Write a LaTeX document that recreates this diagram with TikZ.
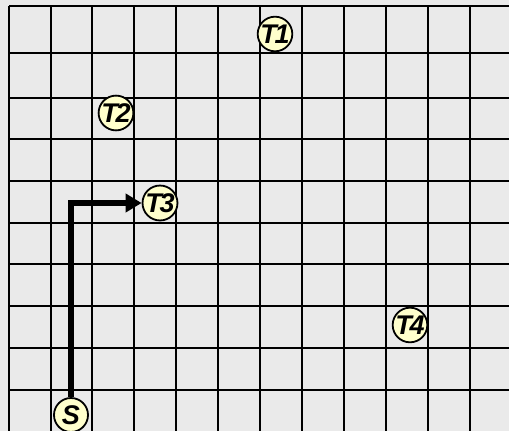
\documentclass[tikz,border=0pt]{standalone}
\usepackage{fontspec}
\usetikzlibrary{arrows.meta}
\newfontfamily\tokfont[LetterSpace=-8]{Liberation Sans}
\definecolor{bggray}{RGB}{234,234,234}
\definecolor{tokfill}{RGB}{255,255,204}
\begin{document}
\begin{tikzpicture}[
    x=1pt,y=-1pt,
    gridline/.style={line width=2.3pt,black},
    token/.style={circle,draw,line width=1.8pt,fill=tokfill,minimum size=34pt,inner sep=0pt,
        font=\tokfont\bfseries\itshape\fontsize{27}{27}\selectfont},
    route/.style={line width=5.5pt,-{Triangle[length=16pt,width=18pt]}}
]
\fill[bggray] (0,0) rectangle (509,431);
\useasboundingbox (0,0) rectangle (509,431);

% grid
\foreach \x in {9,51,92,134,176,218,260,302,344,386,428,470}
    \draw[gridline] (\x,6) -- (\x,431);
\foreach \y in {6,53,98,139,181,223,264,306,348,390}
    \draw[gridline] (9,\y) -- (509,\y);

% start and targets
\node[token] (S) at (71,415) {S};
\node[token] (T1) at (275,34) {T1};
\node[token] (T2) at (116,113) {T2};
\node[token] (T3) at (160,203) {T3};
\node[token] (T4) at (410,325) {T4};

\draw[route] (S.north) |- (T3.west);
\end{tikzpicture}
\end{document}
